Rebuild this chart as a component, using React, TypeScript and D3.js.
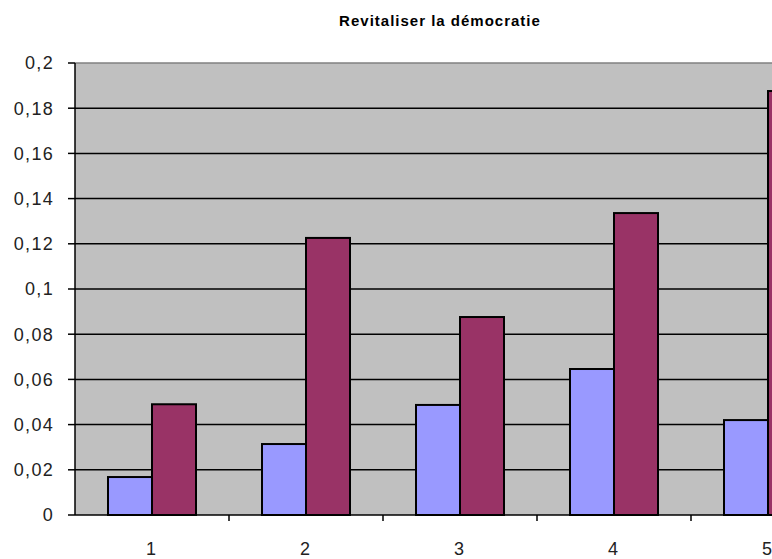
import React from "react";
import * as d3 from "d3";

const title = "Revitaliser la démocratie";
const categories = ["1", "2", "3", "4", "5"];
const seriesA = [0.0168, 0.0314, 0.0487, 0.0646, 0.042];
const seriesB = [0.049, 0.1226, 0.0876, 0.1336, 0.1876];
const yTicks = [0, 0.02, 0.04, 0.06, 0.08, 0.1, 0.12, 0.14, 0.16, 0.18, 0.2];
const colors = ["#9999FF", "#993366"];

export default function App() {
  const W = 772, H = 559;
  const left = 75, top = 63, bottom = 515;
  const bandW = 154;
  const right = left + bandW * categories.length;
  const x = d3.scaleBand<string>().domain(categories).range([left, right]).paddingInner(0).paddingOuter(0);
  const y = d3.scaleLinear().domain([0, 0.2]).range([bottom, top]);
  const inner = d3.scaleBand<number>().domain([0, 1]).range([0, x.bandwidth()]).paddingOuter(0.75).paddingInner(0);
  const fmt = (v: number) => (v === 0 ? "0" : String(+v.toFixed(2)).replace(".", ","));
  const font = "'Liberation Sans', Arial, sans-serif";
  return (
    <svg width={W} height={H} style={{ position: "absolute", left: 0, top: 0, background: "#fff" }}>
      <text x={440} y={26} textAnchor="middle" fontFamily={font} fontWeight="bold" fontSize={15} letterSpacing={1} fill="#000">{title}</text>
      <rect x={left} y={top} width={right - left} height={bottom - top} fill="#C0C0C0" />
      {yTicks.map((t) => (
        <g key={t}>
          {t > 0 && t < 0.2 && (
            <line x1={left} x2={right} y1={y(t)} y2={y(t)} stroke="#000" strokeWidth={1.5} />
          )}
          <line x1={left - 7} x2={left} y1={y(t)} y2={y(t)} stroke="#000" strokeWidth={1.5} />
          <text x={54} y={y(t)} dy="0.36em" textAnchor="end" fontFamily={font} fontSize={18} letterSpacing={1.3} fill="#222">{fmt(t)}</text>
        </g>
      ))}
      <line x1={left} x2={right} y1={top} y2={top} stroke="#808080" strokeWidth={1.5} />
      {categories.map((c, i) => (
        <g key={c}>
          {[seriesA[i], seriesB[i]].map((v, s) => (
            <rect key={s} x={(x(c) as number) + (inner(s) as number)} y={y(v)} width={inner.bandwidth()} height={bottom - y(v)}
              fill={colors[s]} stroke="#000" strokeWidth={2} />
          ))}
          <line x1={(x(c) as number) + bandW} x2={(x(c) as number) + bandW} y1={bottom} y2={bottom + 6} stroke="#000" strokeWidth={1.5} />
          <text x={(x(c) as number) + bandW / 2 - 1} y={555} textAnchor="middle" fontFamily={font} fontSize={18} fill="#222">{c}</text>
        </g>
      ))}
      <line x1={left} x2={left} y1={top} y2={bottom} stroke="#000" strokeWidth={1.5} />
      <line x1={left} x2={right} y1={bottom} y2={bottom} stroke="#000" strokeWidth={1.5} />
    </svg>
  );
}
